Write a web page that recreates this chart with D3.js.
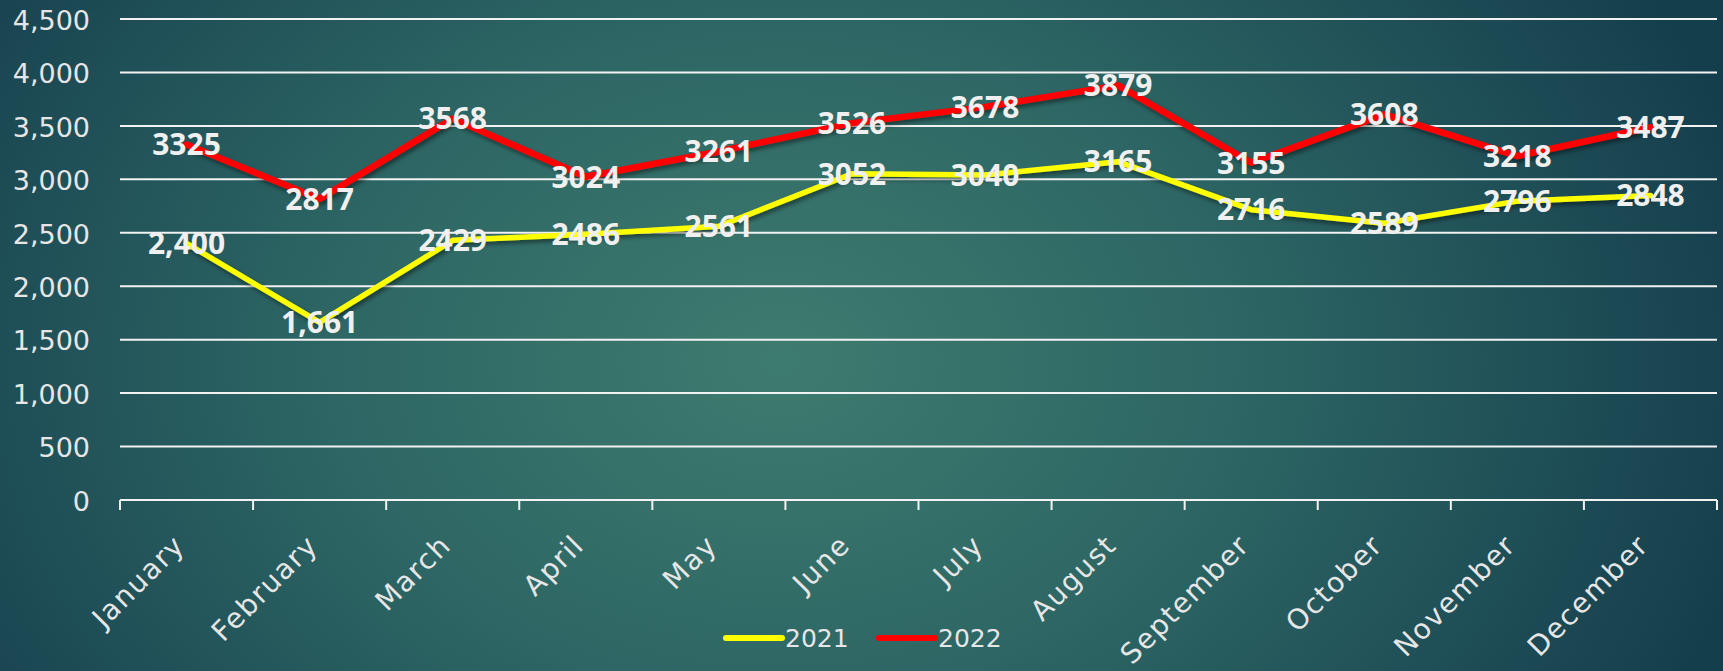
<!DOCTYPE html>
<html>
<head>
<meta charset="utf-8">
<script src="https://cdn.jsdelivr.net/npm/d3@7"></script>
<style>
  html, body { margin: 0; padding: 0; overflow: hidden; }
  body { width: 1723px; height: 671px; }
</style>
</head>
<body>
<div id="chart"></div>
<script>
// data
const months = ["January", "February", "March", "April", "May", "June",
  "July", "August", "September", "October", "November", "December"];
const sales2021 = [2400, 1661, 2429, 2486, 2561, 3052, 3040, 3165, 2716, 2589, 2796, 2848];
const sales2022 = [3325, 2817, 3568, 3024, 3261, 3526, 3678, 3879, 3155, 3608, 3218, 3487];
// labels as shown (only first two 2021 values carry a comma)
const labels2021 = ["2,400", "1,661", "2429", "2486", "2561", "3052", "3040", "3165", "2716", "2589", "2796", "2848"];
const labels2022 = ["3325", "2817", "3568", "3024", "3261", "3526", "3678", "3879", "3155", "3608", "3218", "3487"];
const yTicks = [0, 500, 1000, 1500, 2000, 2500, 3000, 3500, 4000, 4500];

const width = 1723, height = 671;
const margin = { left: 120, right: 6, top: 19, bottom: 171 };

const svg = d3.select("#chart").append("svg")
  .attr("width", width)
  .attr("height", height);

const defs = svg.append("defs");
const grad = defs.append("radialGradient")
  .attr("id", "bg")
  .attr("gradientUnits", "userSpaceOnUse")
  .attr("cx", 780).attr("cy", 360).attr("r", 1000)
  .attr("gradientTransform", "translate(780,360) scale(1,0.75) translate(-780,-360)");
grad.append("stop").attr("offset", "0%").attr("stop-color", "#3e7b6f");
grad.append("stop").attr("offset", "45%").attr("stop-color", "#2d6664");
grad.append("stop").attr("offset", "100%").attr("stop-color", "#153e4d");

const shadow = defs.append("filter").attr("id", "shadow")
  .attr("x", "-5%").attr("y", "-20%").attr("width", "110%").attr("height", "140%");
shadow.append("feDropShadow")
  .attr("dx", 2).attr("dy", 3).attr("stdDeviation", 2)
  .attr("flood-color", "#000").attr("flood-opacity", 0.45);

svg.append("rect").attr("width", width).attr("height", height).attr("fill", "url(#bg)");

const x = d3.scaleBand()
  .domain(months)
  .range([margin.left, width - margin.right]);

const y = d3.scaleLinear()
  .domain([0, 4500])
  .range([height - margin.bottom, margin.top]);

const axisFont = "'DejaVu Sans', 'Open Sans', sans-serif";
const labelFont = "'Open Sans', 'DejaVu Sans', sans-serif";
const textColor = "#e6e6e6";

// grid lines
svg.append("g")
  .selectAll("line")
  .data(yTicks.filter(d => d > 0))
  .join("line")
  .attr("x1", margin.left)
  .attr("x2", width - margin.right)
  .attr("y1", d => y(d))
  .attr("y2", d => y(d))
  .attr("stroke", "#f2f2f2")
  .attr("stroke-width", 2);

// y axis labels
const yAxis = svg.append("g")
  .attr("transform", `translate(${margin.left},0)`)
  .call(d3.axisLeft(y).tickValues(yTicks).tickSize(0).tickPadding(30).tickFormat(d3.format(",")));
yAxis.select(".domain").remove();
yAxis.selectAll("text")
  .attr("fill", textColor)
  .attr("dy", "0.38em")
  .style("font-family", axisFont)
  .style("font-weight", 400)
  .style("font-size", "27px");

// x axis with ticks at the band edges
const xAxis = svg.append("g")
  .attr("transform", `translate(0,${y(0)})`);
xAxis.append("line")
  .attr("x1", margin.left).attr("x2", width - margin.right)
  .attr("stroke", "#f2f2f2").attr("stroke-width", 2);
const edges = months.map(m => x(m)).concat([x(months[months.length - 1]) + x.bandwidth()]);
xAxis.selectAll(".tick-mark")
  .data(edges)
  .join("line")
  .attr("class", "tick-mark")
  .attr("x1", d => d).attr("x2", d => d)
  .attr("y1", 0).attr("y2", 10)
  .attr("stroke", "#f2f2f2").attr("stroke-width", 2);
xAxis.selectAll(".month")
  .data(months)
  .join("text")
  .attr("class", "month")
  .attr("transform", d => `translate(${x(d) + x.bandwidth() / 2 - 14},${33}) rotate(-45)`)
  .attr("text-anchor", "end")
  .attr("dy", "0.7em")
  .attr("fill", textColor)
  .style("font-family", axisFont)
  .style("font-weight", 400)
  .style("font-size", "28px")
  .style("letter-spacing", "1.5px")
  .text(d => d);

const cx = d => x(d) + x.bandwidth() / 2;
const line = d3.line()
  .x((d, i) => cx(months[i]))
  .y(d => y(d));

const series = [
  { name: "2021", values: sales2021, labels: labels2021, color: "#ffff00", width: 5.5 },
  { name: "2022", values: sales2022, labels: labels2022, color: "#ff0000", width: 6.5 }
];

series.forEach(s => {
  svg.append("path")
    .datum(s.values)
    .attr("d", line)
    .attr("fill", "none")
    .attr("stroke", s.color)
    .attr("stroke-width", s.width)
    .attr("stroke-linejoin", "round")
    .attr("stroke-linecap", "round")
    .attr("filter", "url(#shadow)");
});

// data labels, centred on the points
series.forEach(s => {
  svg.append("g")
    .selectAll("text")
    .data(s.values)
    .join("text")
    .attr("x", (d, i) => cx(months[i]))
    .attr("y", d => y(d))
    .attr("dy", "0.36em")
    .attr("text-anchor", "middle")
    .attr("fill", "#f0f0f0")
    .style("font-family", labelFont)
    .style("font-weight", 700)
    .style("font-size", "30px")
    .text((d, i) => s.labels[i]);
});

// legend
const legend = svg.append("g").attr("transform", "translate(726,638)");
const legendX = [0, 153];
series.forEach((s, i) => {
  const g = legend.append("g").attr("transform", `translate(${legendX[i]},0)`);
  g.append("line")
    .attr("x1", 0).attr("x2", 56)
    .attr("stroke", s.color)
    .attr("stroke-width", 6)
    .attr("stroke-linecap", "round");
  g.append("text")
    .attr("x", 59)
    .attr("dy", "0.36em")
    .attr("fill", textColor)
    .style("font-family", axisFont)
    .style("font-weight", 400)
    .style("font-size", "25px")
    .text(s.name);
});
</script>
</body>
</html>
